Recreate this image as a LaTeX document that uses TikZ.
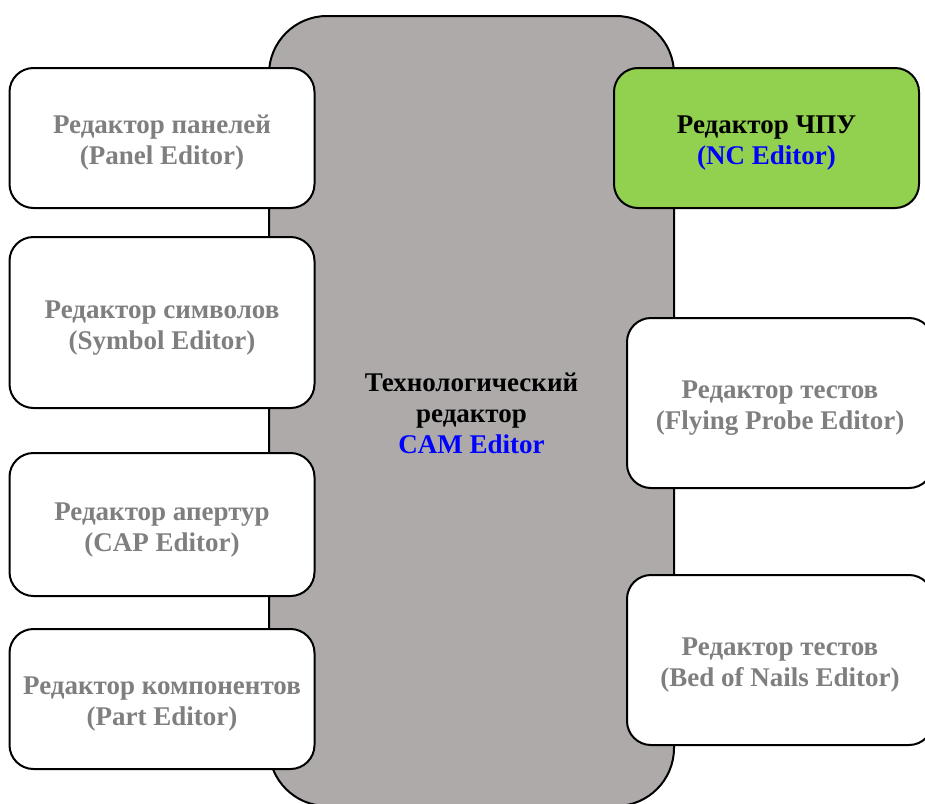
\documentclass[tikz,border=0pt]{standalone}
\usepackage{fontspec}
\setmainfont{Liberation Serif}
\usepackage{tikz}

\definecolor{camgray}{HTML}{AEAAAA}
\definecolor{ncgreen}{HTML}{92D050}
\definecolor{txtgray}{HTML}{7F7F7F}
\definecolor{engblue}{HTML}{0000FF}
\newcommand{\editorfont}{\fontsize{27}{31}\selectfont\bfseries}
% strut on the first line pushes the text block a little down
\newcommand{\lift}[1]{\rule{0pt}{#1}}

\begin{document}
\begin{tikzpicture}[x=1pt, y=-1pt,
    every node/.style={draw, line width=2pt, align=center, font=\editorfont, inner sep=0pt},
    editor/.style={rounded corners=24pt, minimum width=305pt, fill=white, text=txtgray}]
    \path[use as bounding box, clip] (0,0) rectangle (925,803);

    \node[fill=camgray, rounded corners=58pt, minimum width=405pt, minimum height=790pt] (CAM) at (471.5, 411)
        {\lift{24pt}Технологический\\редактор\\\textcolor{engblue}{CAM Editor}};

    \node[editor, minimum height=140pt] (panel) at (162, 138) {\lift{28pt}Редактор панелей\\(Panel Editor)};
    \node[editor, minimum height=171pt] (symbol) at (162, 322.5) {\lift{28pt}Редактор символов\\(Symbol Editor)};
    \node[editor, minimum height=143pt] (cap) at (162, 524.5) {\lift{28pt}Редактор апертур\\(CAP Editor)};
    \node[editor, minimum height=140pt] (part) at (162, 699) {\lift{28pt}Редактор компонентов\\(Part Editor)};

    \node[editor, minimum height=140pt, fill=ncgreen, text=black] (NC) at (766.5, 138)
        {\lift{28pt}Редактор ЧПУ\\\textcolor{engblue}{(NC Editor)}};
    \node[editor, minimum width=306pt, minimum height=170pt] (probe) at (780, 403) {\lift{28pt}Редактор тестов\\(Flying Probe Editor)};
    \node[editor, minimum width=306pt, minimum height=170pt] (nails) at (780, 660) {\lift{28pt}Редактор тестов\\(Bed of Nails Editor)};
\end{tikzpicture}
\end{document}
